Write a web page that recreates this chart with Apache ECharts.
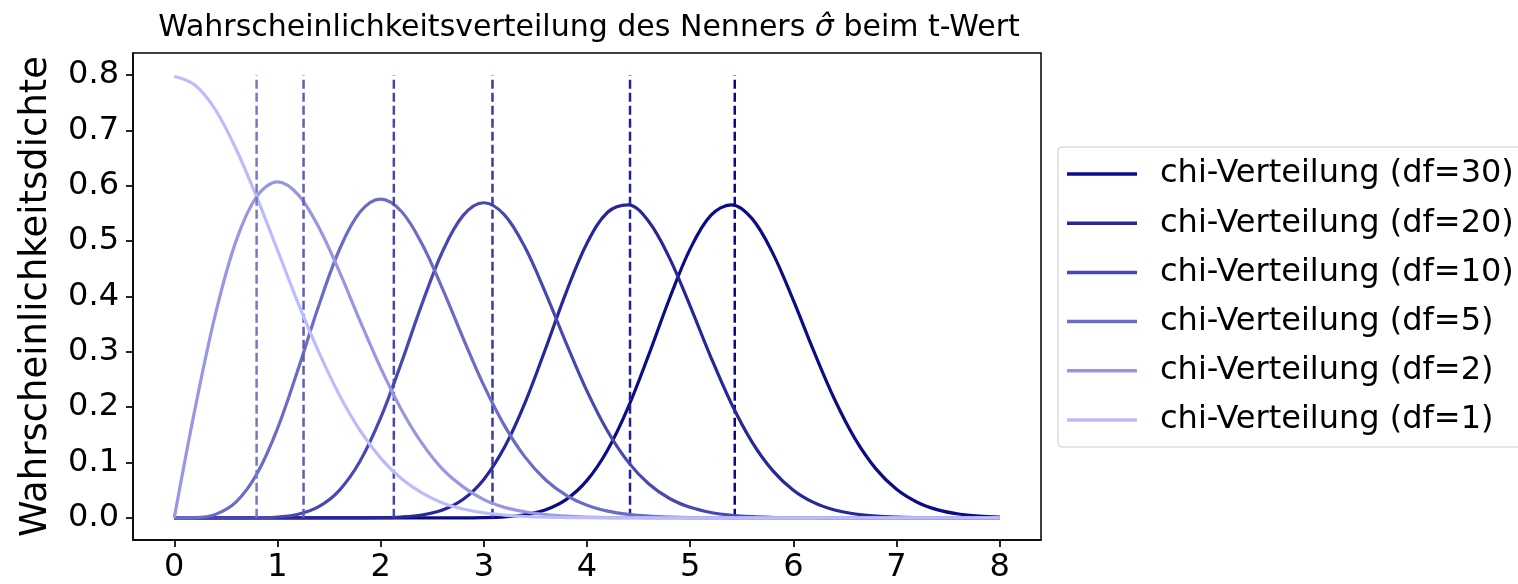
<!DOCTYPE html>
<html>
<head>
<meta charset="utf-8">
<script src="https://cdn.jsdelivr.net/npm/echarts@6/dist/echarts.min.js"></script>
<style>
  html, body { margin: 0; padding: 0; background: #fff; }
  #chart { width: 1518px; height: 584px; }
</style>
</head>
<body>
<div id="chart"></div>
<script>
// Sample positions along the x axis
const xs = [0,0.2,0.4,0.6,0.8,1,1.2,1.4,1.6,1.8,2,2.2,2.4,2.6,2.8,3,3.2,3.4,3.6,3.8,4,4.2,4.4,4.6,4.8,5,5.2,5.4,5.6,5.8,6,6.2,6.4,6.6,6.8,7,7.2,7.4,7.6,7.8,8];

// Density values of the chi distributions, one list per degree of freedom
const dens30 = [0,0,0,0,0,0,0,0,0,0,0,0,0,0,0.0001,0.0005,0.0019,0.0056,0.0146,0.0334,0.0677,0.1227,0.2001,0.2954,0.3964,0.4860,0.5465,0.5657,0.5407,0.4784,0.3929,0.3002,0.2138,0.1422,0.0885,0.0516,0.0283,0.0145,0.0070,0.0032,0.0014];
const dens20 = [0,0,0,0,0,0,0,0,0,0.0001,0.0004,0.0015,0.0051,0.0140,0.0335,0.0695,0.1274,0.2084,0.3065,0.4085,0.4963,0.5523,0.5657,0.5352,0.4694,0.3826,0.2906,0.2063,0.1370,0.0854,0.0500,0.0275,0.0143,0.0070,0.0032,0.0014,0.0006,0.0002,0.0001,0,0];
const dens10 = [0,0,0,0,0.0003,0.0016,0.0065,0.0202,0.0498,0.1022,0.1805,0.2796,0.3862,0.4814,0.5466,0.5694,0.5476,0.4884,0.4057,0.3149,0.2290,0.1565,0.1007,0.0611,0.0350,0.0190,0.0097,0.0047,0.0022,0.0010,0.0004,0.0002,0.0001,0,0,0,0,0,0,0,0];
const dens5 = [0,0.0004,0.0063,0.0288,0.0791,0.1613,0.2685,0.3834,0.4845,0.5525,0.5759,0.5540,0.4953,0.4138,0.3244,0.2393,0.1667,0.1098,0.0685,0.0406,0.0228,0.0122,0.0062,0.0030,0.0014,0.0006,0.0003,0.0001,0,0,0,0,0,0,0,0,0,0,0,0,0];
const dens2 = [0,0.196,0.369,0.501,0.581,0.607,0.584,0.525,0.445,0.356,0.271,0.196,0.135,0.088,0.056,0.033,0.019,0.011,0.006,0.003,0.0013,0.0006,0.0003,0.0001,0,0,0,0,0,0,0,0,0,0,0,0,0,0,0,0,0];
const dens1 = [0.798,0.782,0.737,0.666,0.579,0.484,0.388,0.300,0.222,0.158,0.108,0.071,0.045,0.027,0.016,0.009,0.005,0.0025,0.0012,0.0006,0.0003,0,0,0,0,0,0,0,0,0,0,0,0,0,0,0,0,0,0,0,0];

// Degrees of freedom, their means (dashed markers) and colours
const dfs = [30, 20, 10, 5, 2, 1];
const means = [5.432, 4.417, 3.084, 2.128, 1.253, 0.798];
const densities = [dens30, dens20, dens10, dens5, dens2, dens1];
const colors = ['#0c0c87', '#272799', '#4848b0', '#6c6cc6', '#9797e2', '#bcbcfd'];
const meanColors = ['#0a0a82', '#222296', '#3a3aa6', '#4848ac', '#5e5eb6', '#7878c2'];
const meanLineTop = 0.8;

// Tick labels
const xTicks = [0, 1, 2, 3, 4, 5, 6, 7, 8];
const yTicks = [0.0, 0.1, 0.2, 0.3, 0.4, 0.5, 0.6, 0.7, 0.8];

// Axis extents (5 % padding around the data range)
const xMin = -0.4, xMax = 8.4, yMin = -0.04, yMax = 0.84;

const names = dfs.map(d => 'chi-Verteilung (df=' + d + ')');
const font = 'DejaVu Sans';

const series = [];
dfs.forEach((d, k) => {
  series.push({
    name: names[k],
    type: 'line',
    data: xs.map((x, i) => [x, densities[k][i]]),
    showSymbol: false,
    symbol: 'none',
    smooth: 0.35,
    lineStyle: { color: colors[k], width: 3.2 },
    itemStyle: { color: colors[k] },
    z: 2 + k,
    silent: true
  });
  series.push({
    name: names[k] + ' Mittelwert',
    type: 'line',
    data: [[means[k], 0], [means[k], meanLineTop]],
    showSymbol: false,
    symbol: 'none',
    lineStyle: { color: meanColors[k], width: 2.5, type: [9, 4] },
    z: 2 + k,
    silent: true
  });
});

const axisLine = { show: true, onZero: false, lineStyle: { color: '#000', width: 1.5 } };
const tickStyle = { color: '#000', width: 1.7 };

const chart = echarts.init(document.getElementById('chart'), null, { renderer: 'canvas' });
chart.setOption({
  animation: false,
  backgroundColor: '#fff',
  title: {
    text: 'Wahrscheinlichkeitsverteilung des Nenners {s|σ̂} beim t-Wert',
    left: 584,
    top: 8,
    textAlign: 'center',
    textStyle: {
      fontFamily: font,
      fontSize: 30,
      fontWeight: 'normal',
      color: '#000',
      rich: { s: { fontFamily: font, fontSize: 30, fontStyle: 'italic', color: '#000' } }
    }
  },
  grid: {
    left: 133, top: 53, width: 908, height: 487,
    show: true, borderColor: '#000', borderWidth: 1.5, backgroundColor: 'transparent'
  },
  legend: {
    orient: 'vertical',
    left: 1058,
    top: 147,
    data: names,
    icon: 'rect',
    itemWidth: 70,
    itemHeight: 3.5,
    itemGap: 17.2,
    padding: [11, 30, 11, 9],
    borderColor: '#cccccc',
    borderWidth: 1,
    borderRadius: 4,
    backgroundColor: '#fff',
    selectedMode: false,
    textStyle: { fontFamily: font, fontSize: 32, lineHeight: 32, color: '#000', padding: [0, 0, 0, 18] }
  },
  xAxis: {
    type: 'value',
    min: xMin,
    max: xMax,
    axisLine: axisLine,
    splitLine: { show: false },
    axisTick: { show: true, customValues: xTicks, length: 7, lineStyle: tickStyle },
    axisLabel: {
      customValues: xTicks,
      fontFamily: font, fontSize: 32, color: '#000', margin: 12,
      formatter: v => String(v)
    }
  },
  yAxis: {
    type: 'value',
    min: yMin,
    max: yMax,
    name: 'Wahrscheinlichkeitsdichte',
    nameLocation: 'middle',
    nameGap: 78,
    nameTextStyle: { fontFamily: font, fontSize: 37, color: '#000' },
    axisLine: axisLine,
    splitLine: { show: false },
    axisTick: { show: true, customValues: yTicks, length: 7, lineStyle: tickStyle },
    axisLabel: {
      customValues: yTicks,
      fontFamily: font, fontSize: 32, color: '#000', margin: 14,
      formatter: v => v.toFixed(1)
    }
  },
  series: series
});
</script>
</body>
</html>
